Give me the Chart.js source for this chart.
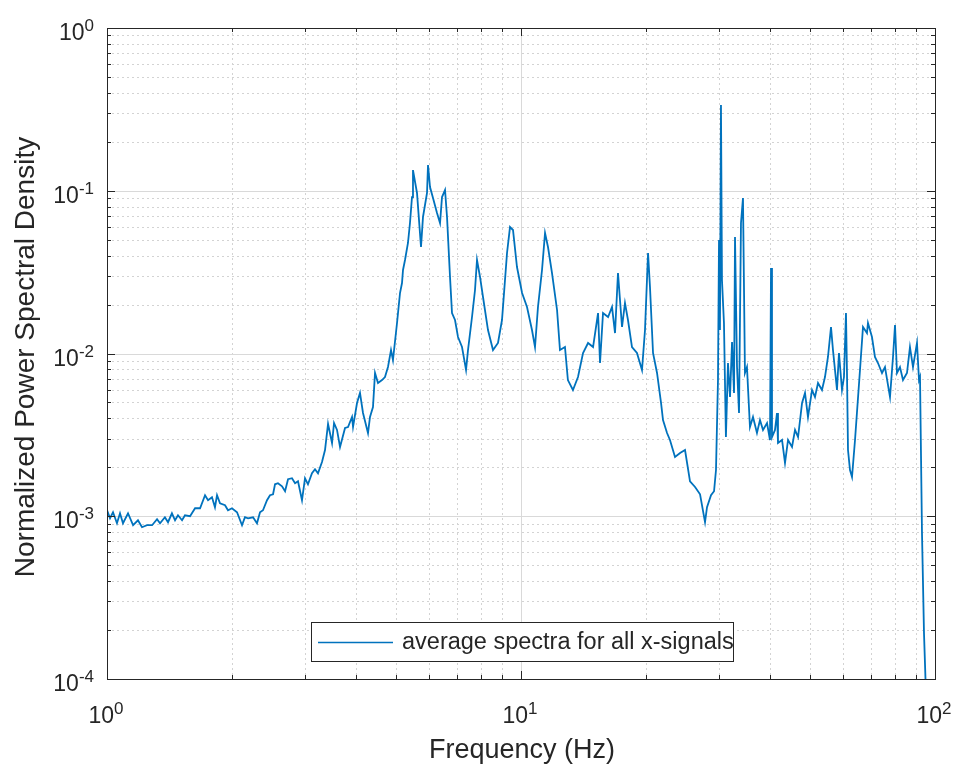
<!DOCTYPE html>
<html>
<head>
<meta charset="utf-8">
<script src="https://cdn.jsdelivr.net/npm/chart.js@4.4.1/dist/chart.umd.min.js"></script>
<style>
  html, body { margin: 0; padding: 0; background: #fff; }
  canvas { display: block; }
</style>
</head>
<body>
<canvas id="psd" width="959" height="767"></canvas>
<script>
// averaged spectrum, frequency in Hz
const freqHz = [
  1.00, 1.017, 1.034, 1.057, 1.075, 1.093, 1.124, 1.156, 1.188, 1.215,
  1.249, 1.285, 1.321, 1.343, 1.380, 1.404, 1.435, 1.460, 1.484, 1.518,
  1.543, 1.587, 1.632, 1.678, 1.725, 1.754, 1.793, 1.823, 1.844, 1.875,
  1.928, 1.960, 2.004, 2.061, 2.119, 2.154, 2.191, 2.253, 2.303, 2.342,
  2.381, 2.435, 2.476, 2.518, 2.546, 2.588, 2.647, 2.692, 2.737, 2.798,
  2.846, 2.893, 2.958, 3.008, 3.058, 3.127, 3.180, 3.233, 3.306, 3.362,
  3.419, 3.496, 3.535, 3.594, 3.655, 3.758, 3.821, 3.907, 3.929, 4.017,
  4.084, 4.153, 4.270, 4.318, 4.390, 4.440, 4.514, 4.616, 4.693, 4.772,
  4.853, 4.906, 5.018, 5.102, 5.159, 5.188, 5.246, 5.333, 5.393, 5.454,
  5.484, 5.608, 5.734, 5.798, 5.929, 5.962, 6.029, 6.130, 6.268, 6.374,
  6.445, 6.554, 6.627, 6.738, 6.813, 6.928, 7.044, 7.203, 7.366, 7.447,
  7.615, 7.743, 7.829, 7.962, 8.095, 8.323, 8.558, 8.799, 8.997, 9.252,
  9.407, 9.565, 9.779, 10.06, 10.34, 10.63, 10.81, 10.99, 11.24, 11.43,
  11.62, 11.88, 12.22, 12.42, 12.77, 12.98, 13.35, 13.73, 14.12, 14.52,
  14.93, 15.35, 15.52, 15.78, 16.23, 16.59, 16.87, 17.15, 17.54, 17.83,
  18.13, 18.54, 19.06, 19.60, 19.93, 20.27, 20.49, 20.84, 21.31, 21.79,
  22.03, 22.53, 22.90, 23.55, 24.22, 24.90, 25.60, 26.33, 27.07, 27.83,
  28.14, 28.77, 29.26, 29.58, 29.91, 30.08, 30.24, 30.41, 30.58, 30.92,
  31.26, 31.62, 31.98, 32.34, 32.70, 32.88, 33.25, 33.62, 33.99, 34.37,
  34.75, 35.14, 35.73, 36.34, 37.15, 37.78, 38.42, 39.29, 39.94, 40.17,
  40.39, 41.07, 41.53, 41.76, 42.71, 43.42, 44.16, 45.15, 45.91, 46.69,
  47.74, 48.53, 49.34, 50.46, 51.30, 52.17, 53.33, 54.23, 55.14, 56.08,
  56.70, 57.98, 58.62, 59.61, 60.28, 60.95, 61.29, 61.64, 62.33, 63.03,
  64.09, 65.89, 67.00, 68.50, 68.88, 70.43, 71.61, 72.82, 74.47, 75.72,
  77.86, 79.17, 80.06, 80.94, 82.30, 83.69, 85.57, 87.00, 88.48, 90.47,
  91.49, 92.00, 93.02, 94.06, 95.12
];

// normalized power spectral density at each frequency
const psd = [
  1.09e-3, 0.972e-3, 1.058e-3, 0.906e-3, 1.043e-3, 0.906e-3, 1.043e-3, 0.881e-3, 0.945e-3, 0.856e-3,
  0.881e-3, 0.881e-3, 0.958e-3, 0.906e-3, 0.986e-3, 0.919e-3, 1.043e-3, 0.945e-3, 1.014e-3, 0.945e-3,
  1.014e-3, 1.0e-3, 1.12e-3, 1.12e-3, 1.346e-3, 1.254e-3, 1.309e-3, 1.136e-3, 1.346e-3, 1.202e-3,
  1.168e-3, 1.089e-3, 1.12e-3, 1.058e-3, 0.881e-3, 0.986e-3, 0.972e-3, 0.986e-3, 0.906e-3, 1.058e-3,
  1.089e-3, 1.254e-3, 1.346e-3, 1.365e-3, 1.572e-3, 1.595e-3, 1.528e-3, 1.424e-3, 1.688e-3, 1.712e-3,
  1.595e-3, 1.64e-3, 1.254e-3, 1.712e-3, 1.572e-3, 1.837e-3, 1.944e-3, 1.837e-3, 2.155e-3, 2.553e-3,
  3.69e-3, 2.818e-3, 3.74e-3, 3.39e-3, 2.664e-3, 3.485e-3, 3.535e-3, 4.072e-3, 3.535e-3, 4.965e-3,
  5.72e-3, 4.31e-3, 3.247e-3, 4.072e-3, 4.69e-3, 7.59e-3, 6.59e-3, 6.87e-3, 7.17e-3, 8.26e-3,
  1.05e-2, 9.12e-3, 1.54e-2, 2.353e-2, 2.71e-2, 3.26e-2, 3.754e-2, 4.775e-2, 6.335e-2, 9.15e-2,
  0.134, 9.69e-2, 4.51e-2, 6.9e-2, 9.69e-2, 0.144, 0.1054, 9.02e-2, 7.3e-2, 6.335e-2,
  9.15e-2, 0.101, 6.9e-2, 2.952e-2, 1.773e-2, 1.606e-2, 1.263e-2, 1.096e-2, 7.92e-3, 1.05e-2,
  1.676e-2, 2.455e-2, 3.754e-2, 2.952e-2, 2.224e-2, 1.394e-2, 1.05e-2, 1.16e-2, 1.606e-2, 4.146e-2,
  5.985e-2, 5.74e-2, 3.4e-2, 2.353e-2, 1.93e-2, 1.394e-2, 1.096e-2, 1.93e-2, 3.26e-2, 5.5e-2,
  4.51e-2, 3.124e-2, 1.851e-2, 1.05e-2, 1.096e-2, 6.87e-3, 5.97e-3, 7.17e-3, 1.007e-2, 1.16e-2,
  1.096e-2, 1.773e-2, 8.74e-3, 1.773e-2, 1.676e-2, 1.93e-2, 1.336e-2, 3.124e-2, 1.455e-2, 2.043e-2,
  1.606e-2, 1.096e-2, 1.007e-2, 7.92e-3, 1.394e-2, 4.146e-2, 2.563e-2, 1.007e-2, 7.59e-3, 4.965e-3,
  3.903e-3, 3.247e-3, 2.941e-3, 2.312e-3, 2.446e-3, 2.553e-3, 1.64e-3, 1.513e-3, 1.365e-3, 0.919e-3,
  1.136e-3, 1.346e-3, 1.424e-3, 1.924e-3, 6.87e-3, 4.98e-2, 1.394e-2, 0.336, 2.829e-2, 1.54e-2,
  3.069e-3, 8.74e-3, 5.4e-3, 1.177e-2, 5.72e-3, 5.2e-2, 8.26e-3, 4.31e-3, 6.335e-2, 9.02e-2,
  7.59e-3, 8.26e-3, 3.535e-3, 4.072e-3, 3.247e-3, 3.903e-3, 3.39e-3, 3.74e-3, 2.941e-3, 3.35e-2,
  3.069e-3, 3.39e-3, 4.31e-3, 2.818e-3, 2.941e-3, 2.125e-3, 2.941e-3, 2.664e-3, 3.39e-3, 3.069e-3,
  4.965e-3, 5.72e-3, 4.072e-3, 5.97e-3, 5.4e-3, 6.59e-3, 5.97e-3, 7.17e-3, 9.52e-3, 1.455e-2,
  1.05e-2, 5.97e-3, 1.007e-2, 5.97e-3, 7.17e-3, 1.773e-2, 7.59e-3, 2.553e-3, 1.924e-3, 1.742e-3,
  2.941e-3, 7.92e-3, 1.455e-2, 1.336e-2, 1.54e-2, 1.263e-2, 9.52e-3, 8.74e-3, 7.59e-3, 8.26e-3,
  5.4e-3, 9.52e-3, 1.496e-2, 7.59e-3, 8.26e-3, 6.87e-3, 7.59e-3, 1.096e-2, 8.26e-3, 1.16e-2,
  6.87e-3, 7.17e-3, 7.88e-4, 1.917e-4, 8e-5
];

// axis decades and their exponent labels
const xDecades = [1, 10, 100];
const xTickExp = ['0', '1', '2'];
const yDecades = [1e-4, 1e-3, 1e-2, 1e-1, 1];
const yTickExp = ['-4', '-3', '-2', '-1', '0'];
const minorSteps = [2, 3, 4, 5, 6, 7, 8, 9];

const xTitle = 'Frequency (Hz)';
const yTitle = 'Normalized Power Spectral Density';
const seriesName = 'average spectra for all x-signals';

const LINE_BLUE = '#0072BD';
const AXIS_INK  = '#262626';
const FONT      = '"Liberation Sans", Arial, Helvetica, sans-serif';

const minorsOf = decades => {
    const out = [];
    decades.slice(0, -1).forEach(d => minorSteps.forEach(s => out.push(d * s)));
    return out;
};
const xMinor = minorsOf(xDecades);
const yMinor = minorsOf(yDecades);

// "10" with a raised exponent, anchored left/center/right at x
function drawPower(ctx, exp, x, y, align) {
    ctx.font = `23px ${FONT}`;
    const wb = ctx.measureText('10').width;
    ctx.font = `17px ${FONT}`;
    const we = ctx.measureText(exp).width;
    const total = wb + we;
    let x0 = x;
    if (align === 'center') x0 = x - total / 2;
    if (align === 'right')  x0 = x - total;
    ctx.textAlign = 'left';
    ctx.textBaseline = 'alphabetic';
    ctx.font = `23px ${FONT}`;
    ctx.fillText('10', x0, y);
    ctx.font = `17px ${FONT}`;
    ctx.fillText(exp, x0 + wb, y - 9);
}

const matlabAxes = {
    id: 'matlabAxes',

    beforeDatasetsDraw(chart) {
        const {ctx, chartArea: a, scales: {x, y}} = chart;
        ctx.save();
        ctx.lineWidth = 1;

        // minor grid, dotted
        ctx.strokeStyle = '#d3d3d3';
        ctx.setLineDash([2, 3]);
        ctx.beginPath();
        xMinor.forEach(v => {
            const px = Math.round(x.getPixelForValue(v)) + 0.5;
            ctx.moveTo(px, a.top); ctx.lineTo(px, a.bottom);
        });
        yMinor.forEach(v => {
            const py = Math.round(y.getPixelForValue(v)) + 0.5;
            ctx.moveTo(a.left, py); ctx.lineTo(a.right, py);
        });
        ctx.stroke();

        // major grid, solid
        ctx.setLineDash([]);
        ctx.strokeStyle = '#d9d9d9';
        ctx.beginPath();
        xDecades.forEach(v => {
            const px = Math.round(x.getPixelForValue(v)) + 0.5;
            ctx.moveTo(px, a.top); ctx.lineTo(px, a.bottom);
        });
        yDecades.forEach(v => {
            const py = Math.round(y.getPixelForValue(v)) + 0.5;
            ctx.moveTo(a.left, py); ctx.lineTo(a.right, py);
        });
        ctx.stroke();
        ctx.restore();
    },

    afterDatasetsDraw(chart) {
        const {ctx, chartArea: a, scales: {x, y}} = chart;
        ctx.save();
        ctx.strokeStyle = AXIS_INK;
        ctx.fillStyle = AXIS_INK;
        ctx.lineWidth = 1;

        // box
        ctx.strokeRect(Math.round(a.left) + 0.5, Math.round(a.top) + 0.5,
                       Math.round(a.right - a.left), Math.round(a.bottom - a.top));

        // inward ticks on all four sides
        const tickX = (vals, len) => vals.forEach(v => {
            const px = Math.round(x.getPixelForValue(v)) + 0.5;
            ctx.moveTo(px, a.bottom); ctx.lineTo(px, a.bottom - len);
            ctx.moveTo(px, a.top);    ctx.lineTo(px, a.top + len);
        });
        const tickY = (vals, len) => vals.forEach(v => {
            const py = Math.round(y.getPixelForValue(v)) + 0.5;
            ctx.moveTo(a.left, py);  ctx.lineTo(a.left + len, py);
            ctx.moveTo(a.right, py); ctx.lineTo(a.right - len, py);
        });
        ctx.beginPath();
        tickX(xDecades, 8); tickX(xMinor, 4);
        tickY(yDecades, 8); tickY(yMinor, 4);
        ctx.stroke();

        // tick labels
        xDecades.forEach((v, i) => drawPower(ctx, xTickExp[i], x.getPixelForValue(v) - 1, a.bottom + 44, 'center'));
        yDecades.forEach((v, i) => drawPower(ctx, yTickExp[i], a.left - 13, y.getPixelForValue(v) + 12, 'right'));

        // axis titles
        ctx.font = `27px ${FONT}`;
        ctx.textAlign = 'center';
        ctx.textBaseline = 'alphabetic';
        ctx.fillText(xTitle, (a.left + a.right) / 2 + 1, 758);
        ctx.save();
        ctx.translate(34, 357);
        ctx.rotate(-Math.PI / 2);
        ctx.font = `28px ${FONT}`;
        ctx.fillText(yTitle, 0, 0);
        ctx.restore();

        // legend box inside the plot
        const lg = {left: 311, top: 622, width: 422, height: 39};
        ctx.fillStyle = '#fff';
        ctx.fillRect(lg.left, lg.top, lg.width, lg.height);
        ctx.strokeRect(lg.left + 0.5, lg.top + 0.5, lg.width, lg.height);
        ctx.strokeStyle = LINE_BLUE;
        ctx.lineWidth = 1.5;
        ctx.beginPath();
        ctx.moveTo(lg.left + 7, lg.top + 20.5);
        ctx.lineTo(lg.left + 82, lg.top + 20.5);
        ctx.stroke();
        ctx.fillStyle = AXIS_INK;
        ctx.font = `23.5px ${FONT}`;
        ctx.textAlign = 'left';
        ctx.textBaseline = 'middle';
        ctx.fillText(seriesName, lg.left + 91, lg.top + 21);
        ctx.restore();
    }
};

new Chart(document.getElementById('psd'), {
    type: 'line',
    data: {
        datasets: [{
            label: seriesName,
            data: freqHz.map((f, i) => ({x: f, y: psd[i]})),
            borderColor: LINE_BLUE,
            borderWidth: 1.8,
            pointRadius: 0,
            tension: 0,
            fill: false
        }]
    },
    options: {
        responsive: false,
        animation: false,
        devicePixelRatio: 1,
        layout: {padding: {left: 107, right: 24, top: 28, bottom: 88}},
        scales: {
            x: {type: 'logarithmic', min: 1, max: 100, display: false},
            y: {type: 'logarithmic', min: 1e-4, max: 1, display: false}
        },
        plugins: {
            legend: {display: false},
            tooltip: {enabled: false}
        }
    },
    plugins: [matlabAxes]
});
</script>
</body>
</html>
